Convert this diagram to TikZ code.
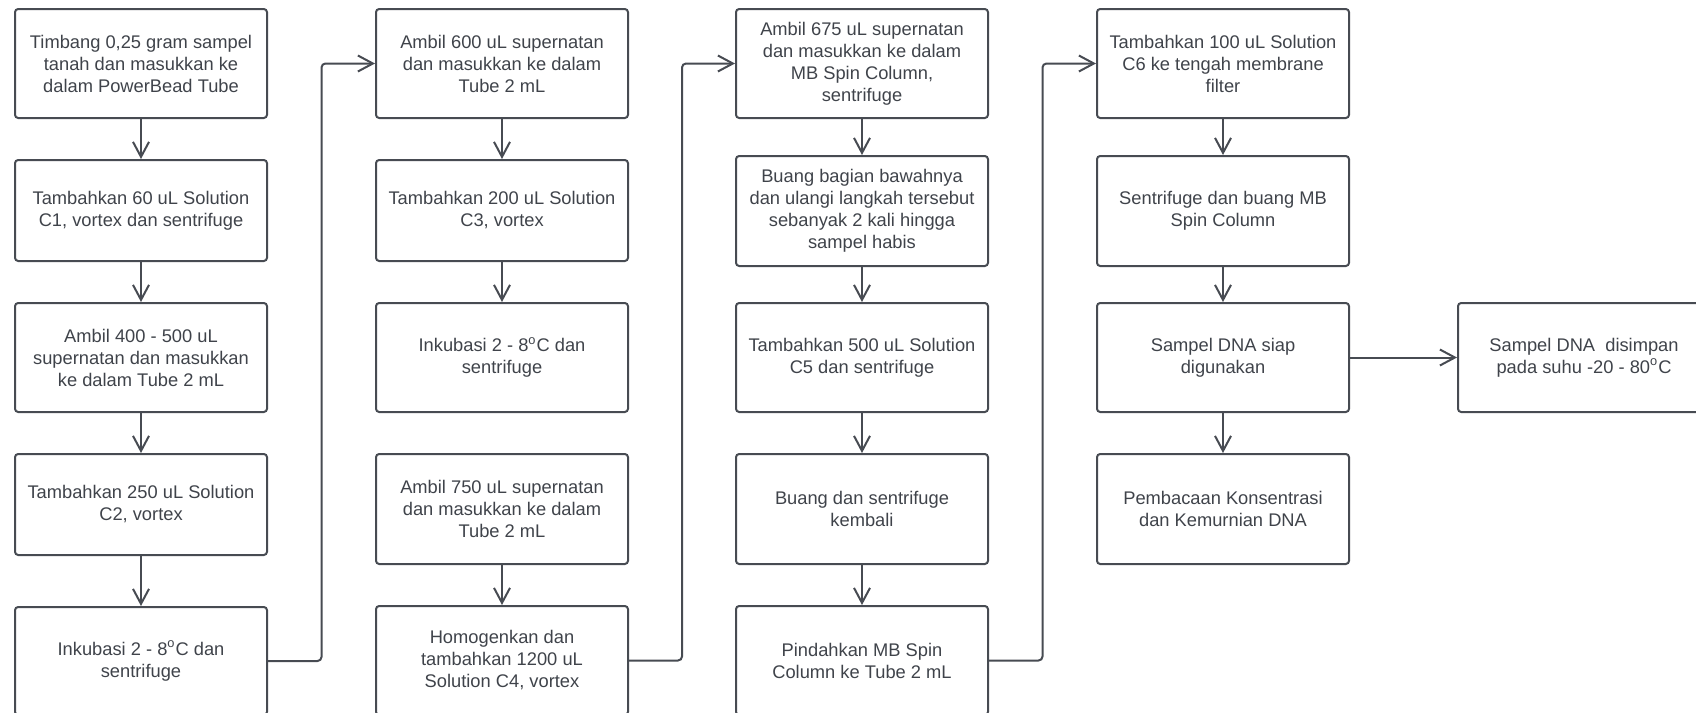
\documentclass[tikz,border=0pt]{standalone}
\usepackage{fontspec}
\setmainfont{Liberation Sans}
\usetikzlibrary{arrows.meta,calc}
\definecolor{edgegray}{HTML}{474B52}
\definecolor{textgray}{HTML}{3F434A}
\newcommand{\degsym}{\textsuperscript{o}}
\tikzset{
  stepbox/.style={draw=edgegray, line width=1pt, rounded corners=1.6pt,
    anchor=north west, minimum width=126pt, inner sep=0pt, align=center,
    text=textgray, font=\fontsize{9.15}{11}\selectfont},
  arr/.style={draw=edgegray, line width=1pt,
    -{Straight Barb[length=7.5pt,width=8pt,line width=1pt]}},
  link/.style={arr, rounded corners=2pt}
}
\begin{document}
\begin{tikzpicture}[x=0.5pt,y=-0.5pt]
\useasboundingbox (0,0) rectangle (1696,712);

% column 1
\node[stepbox, minimum height=54.5pt] (a1) at (14,8) {Timbang 0,25 gram sampel\\tanah dan masukkan ke\\dalam PowerBead Tube};
\node[stepbox, minimum height=50.5pt] (a2) at (14,159) {Tambahkan 60 uL Solution\\C1, vortex dan sentrifuge};
\node[stepbox, minimum height=54.5pt] (a3) at (14,302) {Ambil 400 - 500 uL\\supernatan dan masukkan\\ke dalam Tube 2 mL};
\node[stepbox, minimum height=50.5pt] (a4) at (14,453) {Tambahkan 250 uL Solution\\C2, vortex};
\node[stepbox, minimum height=54pt] (a5) at (14,606) {Inkubasi 2 - 8\degsym C dan\\sentrifuge};

% column 2
\node[stepbox, minimum height=54.5pt] (b1) at (375,8) {Ambil 600 uL supernatan\\dan masukkan ke dalam\\Tube 2 mL};
\node[stepbox, minimum height=50.5pt] (b2) at (375,159) {Tambahkan 200 uL Solution\\C3, vortex};
\node[stepbox, minimum height=54.5pt] (b3) at (375,302) {Inkubasi 2 - 8\degsym C dan\\sentrifuge};
\node[stepbox, minimum height=55pt] (b4) at (375,453) {Ambil 750 uL supernatan\\dan masukkan ke dalam\\Tube 2 mL};
\node[stepbox, minimum height=54.5pt] (b5) at (375,605) {Homogenkan dan\\tambahkan 1200 uL\\Solution C4, vortex};

% column 3
\node[stepbox, minimum height=54.5pt] (c1) at (735,8) {Ambil 675 uL supernatan\\dan masukkan ke dalam\\MB Spin Column,\\sentrifuge};
\node[stepbox, minimum height=55pt] (c2) at (735,155) {Buang bagian bawahnya\\dan ulangi langkah tersebut\\sebanyak 2 kali hingga\\sampel habis};
\node[stepbox, minimum height=54.5pt] (c3) at (735,302) {Tambahkan 500 uL Solution\\C5 dan sentrifuge};
\node[stepbox, minimum height=55pt] (c4) at (735,453) {Buang dan sentrifuge\\kembali};
\node[stepbox, minimum height=54.5pt] (c5) at (735,605) {Pindahkan MB Spin\\Column ke Tube 2 mL};

% column 4
\node[stepbox, minimum height=54.5pt] (d1) at (1096,8) {Tambahkan 100 uL Solution\\C6 ke tengah membrane\\filter};
\node[stepbox, minimum height=55pt] (d2) at (1096,155) {Sentrifuge dan buang MB\\Spin Column};
\node[stepbox, minimum height=54.5pt] (d3) at (1096,302) {Sampel DNA siap\\digunakan};
\node[stepbox, minimum height=55pt] (d4) at (1096,453) {Pembacaan Konsentrasi\\dan Kemurnian DNA};

% storage step
\node[stepbox, minimum height=54.5pt] (e3) at (1457,302) {Sampel DNA~ disimpan\\pada suhu -20 - 80\degsym C};

% arrows inside each column
\draw[arr] (a1.south) -- (a2.north);
\draw[arr] (a2.south) -- (a3.north);
\draw[arr] (a3.south) -- (a4.north);
\draw[arr] (a4.south) -- (a5.north);
\draw[arr] (b1.south) -- (b2.north);
\draw[arr] (b2.south) -- (b3.north);
\draw[arr] (b4.south) -- (b5.north);
\draw[arr] (c1.south) -- (c2.north);
\draw[arr] (c2.south) -- (c3.north);
\draw[arr] (c3.south) -- (c4.north);
\draw[arr] (c4.south) -- (c5.north);
\draw[arr] (d1.south) -- (d2.north);
\draw[arr] (d2.south) -- (d3.north);
\draw[arr] (d3.south) -- (d4.north);
\draw[arr] (d3.east) -- (e3.west);

% links from the bottom of one column to the top of the next
\coordinate (m1) at ($(a1.east)!0.5!(b1.west)$);
\coordinate (m2) at ($(b1.east)!0.5!(c1.west)$);
\coordinate (m3) at ($(c1.east)!0.5!(d1.west)$);
\draw[link] (a5.east) -| (m1) -- (b1.west);
\draw[link] (b5.east) -| (m2) -- (c1.west);
\draw[link] (c5.east) -| (m3) -- (d1.west);
\end{tikzpicture}
\end{document}
